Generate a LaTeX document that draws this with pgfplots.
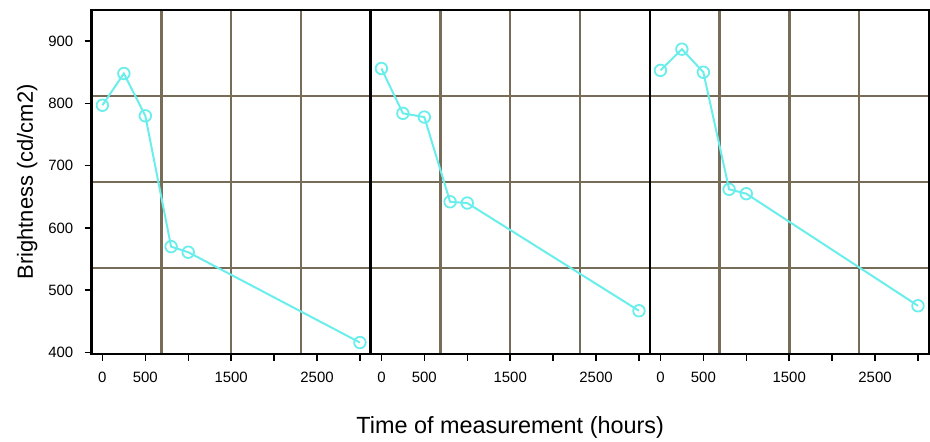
\documentclass[border=0pt]{standalone}
\usepackage{pgfplots}
\pgfplotsset{compat=1.18}
\usepackage{fontspec}
\setmainfont{Liberation Sans}
\definecolor{lcyan}{RGB}{105,238,236}
\definecolor{gridc}{RGB}{118,108,88}
\pgfplotsset{
  panel/.style={
    scale only axis, width=280pt, height=345pt,
    xmin=-125, xmax=3125, ymin=398, ymax=950,
    axis line style={black, line width=2.4pt},
    tick style={black, line width=1.5pt},
    major tick length=7pt, minor tick length=0pt,
    tick align=outside, xtick pos=left, ytick pos=left,
    xtick={0,500,1000,1500,2000,2500,3000},
    xticklabels={0,500,,1500,,2500,},
    minor xtick={687.5,1500,2312.5},
    minor ytick={536,674,812},
    xminorgrids=true, yminorgrids=true,
    minor grid style={gridc, line width=2.6pt},
    ticklabel style={font=\fontsize{15}{17}\selectfont},
    /pgf/number format/assume math mode=true,
    xticklabel style={yshift=-8pt},
    yticklabel style={xshift=-8pt},
    clip=false,
  },
  blank y/.style={
    ytick={536,674,812}, yticklabels={},
    minor ytick={}, yminorgrids=false,
    ymajorgrids=true, major grid style={gridc, line width=2.6pt},
    y tick style={draw=none},
  },
  series/.style={lcyan, line width=2pt, mark=o,
    mark size=5.8pt, mark options={line width=1.8pt}},
}
\begin{document}
\begin{tikzpicture}
\begin{axis}[panel,
  ytick={400,500,600,700,800,900},
  ylabel={Brightness (cd/cm2)},
  ylabel style={font=\fontsize{22}{24}\selectfont, yshift=4pt}]
\addplot[series] coordinates {
  (0,797) (250,848) (500,780) (800,570) (1000,561) (3000,416)
};
\end{axis}
\begin{axis}[panel, blank y, xshift=280pt,
  xlabel={Time of measurement (hours)},
  xlabel style={font=\fontsize{23.5}{25}\selectfont, yshift=-27pt}]
\addplot[series] coordinates {
  (0,856) (250,784) (500,778) (800,642) (1000,640) (3000,467)
};
\end{axis}
\begin{axis}[panel, blank y, xshift=560pt]
\addplot[series] coordinates {
  (0,853) (250,887) (500,850) (800,662) (1000,655) (3000,475)
};
\end{axis}
\path (-92pt,355pt) (840pt,-86pt);
\end{tikzpicture}
\end{document}
